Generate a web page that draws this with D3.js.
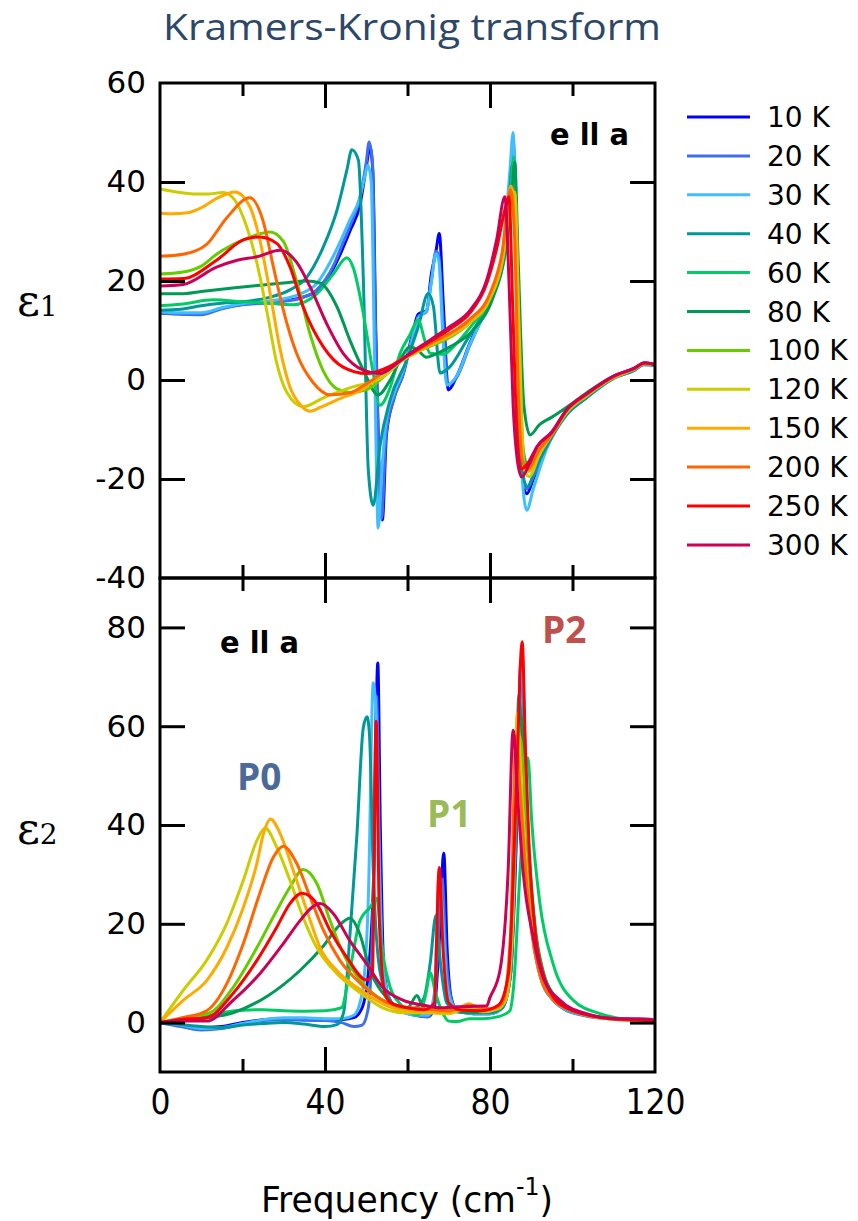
<!DOCTYPE html>
<html>
<head>
<meta charset="utf-8">
<script src="https://cdn.jsdelivr.net/npm/d3@7"></script>
<style>
  body { margin: 0; background: #fff; }
</style>
</head>
<body>
<svg id="chart" width="858" height="1221"></svg>
<script>
// temperatures and their colours (legend order)
const temps = ["10 K", "20 K", "30 K", "40 K", "60 K", "80 K", "100 K", "120 K", "150 K", "200 K", "250 K", "300 K"];
const colors = ["#0000ff", "#3f6ff0", "#40bfff", "#009999", "#00cc66", "#009955", "#66cc00", "#cccc00", "#ffaa00", "#ff6600", "#ff0000", "#cc0055"];

// eps1 (real part), [frequency cm-1, value]
const e1_10 = [[0,13.5],[5,13.4],[10,13.4],[15,14.5],[20,15.3],[25,15.6],[30,16.0],[34,16.6],[38,18.0],[42,22.5],[44,26],[46,30],[48.5,35.5],[50,43],[50.9,47],[51.6,42],[52.3,10],[53.1,-18],[53.9,-28.3],[54.9,-11],[56.6,-4],[59,1.4],[61.4,10],[62.6,13.3],[64.6,14],[65.8,21.5],[66.9,26],[67.7,29.6],[68.7,15],[69.9,-2],[71.9,0.7],[75.1,7.4],[78.4,13.5],[80.8,18.2],[83.2,26],[84.8,39],[85.8,46],[86.6,20],[87.3,-16],[88.9,-23],[90.5,-20],[93.7,-13.5],[98.6,-6.8],[103.4,-3.5],[109.9,0.5],[114.8,2],[117.2,3.2],[120,3]];
const e1_20 = [[0,13.5],[5,13.3],[10,13.2],[15,14.4],[20,15.2],[25,15.5],[30,15.9],[34,16.5],[38,18.2],[42,23],[44,27],[46,31],[48.5,37],[50,44],[50.7,48.1],[51.5,44],[52.2,12],[53,-16],[53.7,-28],[54.8,-11],[56.6,-4],[59,1.2],[61.4,9.5],[62.6,12.8],[64.6,13.8],[65.8,20],[66.9,26],[67.6,25],[68.6,12],[69.7,-1],[71.9,0.5],[75.1,7],[78.4,13.2],[80.8,18],[83.2,26.5],[84.8,40],[85.7,48],[86.5,22],[87.3,-15],[88.9,-22],[90.5,-19.5],[93.7,-13.5],[98.6,-6.8],[103.4,-3.5],[109.9,0.4],[114.8,1.9],[117.2,3.1],[120,3]];
const e1_30 = [[0,13.8],[5,13.6],[10,13.6],[15,14.6],[20,15.4],[25,15.8],[30,16.4],[34,17.4],[38,19.5],[42,25],[44,28.5],[46,32.3],[48.5,37],[49.6,41],[50.4,43.4],[51.2,40],[52,5],[52.9,-29.9],[53.8,-18],[54.9,-8],[56.6,-3],[59,2],[61.4,9],[62.6,12.5],[64.6,14],[65.8,20],[66.9,25.5],[67.6,24],[68.5,10],[69.5,-1],[71.9,0.8],[75.1,7.2],[78.4,13],[80.8,18],[83.2,27],[84.8,42],[85.6,50],[86.4,25],[87.3,-12],[88.9,-26.3],[90.5,-22],[93.7,-14],[98.6,-7],[103.4,-3.6],[109.9,0.4],[114.8,1.9],[117.2,3.1],[120,3]];
const e1_40 = [[0,14.1],[5,14.3],[10,15.0],[15,15.5],[20,15.8],[26,16.6],[31.5,18.2],[35.6,20.8],[39.6,26.9],[42.9,34.3],[45.3,42.4],[46.5,46.5],[48.1,44.4],[49.3,20.2],[50.5,-18.2],[51.7,-25.3],[53.3,-13.5],[55.8,-4],[59.8,4],[62.6,10.7],[65,17.5],[66.3,14.8],[67.9,1.4],[70.3,2.7],[74.4,8.1],[78.4,13.5],[81.6,18.9],[84.1,28.3],[85.3,43],[85.9,44],[86.8,0],[87.8,-18],[89,-21.6],[91,-18],[94,-13],[98.6,-7],[103.4,-3.6],[110,0.3],[115,2],[117.5,3.2],[120,3]];
const e1_60 = [[0,15.0],[5,15.3],[13,16.2],[20,15.8],[26,15.5],[32.3,15.2],[38,17.4],[42,21.4],[45.3,24.7],[46.8,22.8],[49.3,13.4],[51.7,1.3],[53.3,-5.1],[55.8,-1.5],[58.2,5.4],[60.5,9],[62.6,12.1],[64.2,8],[65.5,5.4],[68.7,5.2],[72,7.5],[76,11.5],[80,16],[83,24],[85,38],[85.8,45],[86.8,20],[87.8,-12],[89,-17],[91,-15],[94,-12],[98.6,-6.5],[103.4,-3],[110,0.6],[115,2.2],[117.5,3.3],[120,3.1]];
const e1_80 = [[0,17.4],[5,17.4],[10,17.9],[17.6,18.6],[25,19.2],[29.9,19.6],[35.6,20.0],[38.8,19.6],[42.9,14.8],[46,8.1],[49.3,2.0],[52.9,-3.0],[55.8,0],[58.5,4.5],[60.6,6.7],[62.5,6],[64.6,4.6],[67,5.3],[70.3,6.7],[75.9,10.1],[80.8,16.8],[83.5,25],[85.3,38],[86,44],[86.8,25],[88.2,-5],[89.7,-11.1],[92,-9],[95,-7.5],[98.6,-5.5],[103.4,-2.6],[110,0.8],[115,2.2],[117.5,3.3],[120,3.1]];
const e1_100 = [[0,21.4],[5.6,21.8],[10,23],[13.7,25.4],[20.2,28.3],[26.7,29.9],[29.9,28],[33.1,20],[36.4,9.2],[39.6,1.8],[42.9,-1.8],[46,-2.5],[50,-2.0],[54,0.5],[58,3.5],[62,5.5],[66,7],[70,8.5],[75,11.5],[80,16.5],[83,24],[85,35],[86,38],[87,10],[88.2,-17],[89.5,-18],[92,-14],[95,-11],[98.6,-6.5],[103.4,-3.2],[110,0.5],[115,2.2],[117.5,3.3],[120,3.1]];
const e1_120 = [[0,38.6],[4,38],[8,37.6],[12,37.6],[15.3,37.9],[18,36.5],[21,31],[23.5,23.6],[26,13.5],[28.3,3.4],[30.8,-2.6],[34.7,-5.4],[39.6,-3.6],[46,-1.6],[54,0.6],[58,3.5],[62,5.5],[66,7.2],[70,8.8],[75,11.5],[80,16.5],[83,24],[85,36],[86,38],[87,12],[88.3,-18],[89.5,-19.5],[92,-15],[95,-11],[98.6,-6.5],[103.4,-3.2],[110,0.5],[115,2.2],[117.5,3.3],[120,3.1]];
const e1_150 = [[0,33.7],[3,33.6],[6.7,33.8],[10,34.8],[14,36.8],[18.2,38],[21.8,35],[24.2,28.3],[26.7,17.5],[29,6.7],[31.5,-1.4],[34,-5],[36.4,-6.3],[39,-5.5],[42.9,-4.0],[50,-1.4],[54,1.5],[58,3.8],[62,5.6],[66,7.3],[70,9],[75,11.8],[80,17],[83,25],[85.1,39.2],[86.2,30],[87,0],[88,-16],[89.3,-18.5],[92,-14.5],[95,-11],[98.6,-6.3],[103.4,-3],[110,0.6],[115,2.3],[117.5,3.4],[120,3.1]];
const e1_200 = [[0,25.0],[5.6,25.4],[11.3,27.4],[16.2,32.8],[21.8,36.8],[25,32.1],[27.5,22.8],[29.9,14.1],[33.1,5.4],[37.2,-0.6],[41.2,-3.0],[46,-2.6],[50,-0.8],[54,1.5],[58,4],[62,5.8],[66,7.6],[70,9.3],[75,12.2],[80,17.5],[83,26],[85,38.5],[86,28],[86.8,0],[87.8,-16],[89,-18],[92,-14],[95,-11],[98.6,-6.2],[103.4,-3],[110,0.7],[115,2.3],[117.5,3.4],[120,3.1]];
const e1_250 = [[0,20.4],[5.6,20.5],[13.7,24.2],[20.2,28.3],[24.2,28.9],[28.3,27.6],[31.5,22.9],[34.7,14.8],[39.6,6.7],[44.4,2.6],[50.1,1.3],[55.8,2.8],[60.6,5.2],[65.5,7.8],[70.3,10.3],[75.2,13.6],[79.2,19.5],[81.6,26.5],[83.8,35],[84.6,37],[85.5,15],[86.5,-10],[87.5,-18],[89,-17],[91.4,-13.5],[95,-10.5],[98.6,-6],[103.4,-2.8],[110,0.8],[115,2.4],[117.5,3.5],[120,3.1]];
const e1_300 = [[0,19.0],[5.6,19.3],[13.7,22.8],[18.7,24.2],[23.5,24.9],[29.1,26.2],[33.1,23.8],[36.4,18.8],[40.4,11.4],[44.4,5.4],[49.3,2.0],[53.3,1.3],[57.5,3.4],[60.6,5.4],[65.5,8.1],[70.3,10.8],[75.2,14.1],[79.2,20.2],[81.6,28.3],[83.6,37.0],[84.6,20],[85.6,-5],[86.6,-16],[87.7,-19.6],[89.5,-17],[91.4,-13.5],[95,-10.5],[98.6,-6],[103.4,-2.8],[110,0.8],[115,2.4],[117.5,3.5],[120,3.1]];

// eps2 (imaginary part), [frequency cm-1, value]
const e2_10 = [[0,0],[5,-0.5],[10,-1],[15,-0.8],[20,0],[25,0.6],[30,0.8],[35,0.6],[40,0.5],[44,0.6],[47,1],[49,3],[50.5,10],[51.8,30],[52.8,72.8],[53.4,40],[54.2,12],[55.5,5],[58,2.5],[62,1.5],[65,1.2],[66.5,3],[67.6,15],[68.8,34.3],[69.6,15],[70.6,5],[72,2.5],[76,1.8],[80,1.8],[83,3],[85,10],[86.3,35],[87.5,73],[88.3,60],[89.3,33],[90.5,18],[92.5,9],[95,5],[98,2.8],[103,1.5],[110,0.8],[116,0.6],[120,0.3]];
const e2_20 = [[0,0],[5,-0.8],[10,-1.5],[15,-1.2],[20,-0.3],[25,0.4],[30,0.6],[35,0.5],[40,0.4],[44,0],[47,-0.8],[49,-0.5],[50.5,3],[51.7,25],[52.5,66],[53.2,35],[54,12],[55.5,5],[58,2.5],[62,1.5],[65,1.2],[66.5,4],[67.5,18],[68.4,29],[69.3,14],[70.5,5],[72,2.5],[76,1.8],[80,1.8],[83,3],[85,10],[86.3,38],[87.6,72],[88.4,55],[89.3,32],[90.5,17],[92.5,8.5],[95,4.8],[98,2.7],[103,1.4],[110,0.7],[116,0.5],[120,0.3]];
const e2_30 = [[0,0],[5,-0.5],[10,-1.2],[15,-1],[20,-0.2],[25,0.6],[30,1],[35,1],[40,0.8],[44,0.8],[47,1.5],[49,6],[50.5,25],[51.7,68.8],[52.5,60],[53.2,30],[54,12],[55.5,5],[58,2.5],[62,1.5],[65,1.5],[66.5,6],[67.7,30.2],[68.5,22],[69.5,8],[71,3.5],[73,2.2],[76,1.8],[80,1.8],[83,3],[85,11],[86.3,42],[87.8,75],[88.5,55],[89.3,33],[90.5,18],[92.5,9],[95,5],[98,2.8],[103,1.5],[110,0.8],[116,0.6],[120,0.3]];
const e2_40 = [[0,0],[5,-0.4],[10,-0.8],[15,-1],[20,-0.5],[25,-0.2],[30,0],[35,-0.3],[40,-0.8],[42.9,-0.4],[44.5,2],[46,17.2],[47.7,37.5],[49.3,59.8],[50.2,61.9],[50.8,58],[51.7,30.8],[53.3,10.5],[55.8,4.5],[58,2.8],[60,2.5],[62,3],[64,5],[65.5,12],[66.9,21.7],[68,12],[69.5,4],[72,2.2],[76,2],[80,2],[83,3],[85,10],[86.2,40],[87,66.3],[88,55],[89.3,33],[90.5,19],[92.5,10],[95,5.5],[98,3],[103,1.6],[110,0.8],[116,0.6],[120,0.3]];
const e2_60 = [[0,0],[5,0.5],[10,1],[15,2],[20,2.5],[25,2.6],[30,2.4],[35,2.3],[40,2.4],[44,3],[46,10.5],[48.5,20.7],[50.9,23.3],[52.5,25.2],[54,14],[55.8,7.1],[58,4],[60,2.5],[62,1.5],[63,1.8],[64.5,6],[65.5,10.1],[66.8,6],[68.5,2],[70,0.3],[72,0.2],[75,0.8],[78.4,0.8],[82,1.2],[84.8,2.4],[85.7,7.1],[87.3,30.8],[89.2,53.6],[90.1,41],[92.1,24.1],[95.3,11.9],[100.2,4.5],[106.7,1.8],[113,0.6],[119.6,0]];
const e2_80 = [[0,0],[5,0.3],[10,0.8],[17.7,2],[25.9,5.3],[34,10.6],[39.6,15.5],[43.6,19.8],[46,21.1],[48.5,17.8],[50.9,10.6],[54,6],[57,3.5],[60,3],[62.3,5.5],[63.5,3.5],[65,2.5],[68,2.5],[72,2.2],[76,2],[80,2.2],[83,3.5],[85,12],[86.3,40],[87.5,62],[88.4,52],[89.5,34],[91,19],[93,10],[95.5,5.5],[99,3],[104,1.5],[110,0.8],[116,0.4],[120,0.2]];
const e2_100 = [[0,0],[5.6,1],[12.1,2],[17.7,7.1],[23.5,15.2],[28.3,22.7],[31.5,27.4],[34.7,31.0],[38,28.2],[41.2,20.7],[44.4,14],[48.5,8.6],[54,4.5],[59,3],[64,2.6],[70,2.4],[75,2.6],[80,2.5],[83,4],[85,14],[86.3,42],[87.2,58],[88.2,50],[89.5,32],[91,18],[93,9.5],[95.5,5],[99,2.8],[104,1.5],[110,0.8],[116,0.5],[120,0.2]];
const e2_120 = [[0,0],[5.6,6.5],[11.3,12.6],[16.2,20.1],[20.2,28.8],[23.5,36.9],[25.5,39.4],[28.3,35.5],[31.5,28.8],[34.7,21.3],[38,15.2],[42.9,9.9],[47.8,6.5],[54,3],[59,2],[64,2],[70,1.8],[75,3],[78,2.2],[82,2.8],[84,5],[85.5,20],[86.6,62.6],[87.5,50],[88.5,35],[90,20],[92,10.5],[95,5],[99,2.7],[104,1.4],[110,0.7],[116,0.5],[120,0.2]];
const e2_150 = [[0,0],[5.6,4.5],[11.3,8.5],[16.2,15.2],[20.2,23.3],[23.5,32.3],[25.1,38.3],[26.8,41.2],[29.1,38.3],[32.3,30.8],[35.6,22.7],[38.8,15.2],[42.9,10.5],[47.8,7.1],[54,3.8],[59,2.4],[64,2.2],[70,2],[75,3.8],[78,2.5],[82,3],[84,6],[85.4,25],[86.5,58],[87.4,48],[88.5,33],[90,19],[92,10],[95,5],[99,2.7],[104,1.4],[110,0.7],[116,0.5],[120,0.2]];
const e2_200 = [[0,0],[5.6,1],[11.3,2.4],[16.2,7.9],[20.2,16],[24.2,26.2],[27.5,33.5],[29.9,35.7],[33.1,32.3],[36.4,25.4],[39.6,18.7],[43.6,12.6],[48.5,8],[54,4.5],[59,3.2],[64,2.8],[70,2.4],[75,3.5],[80,2.8],[83,4],[85,18],[86.3,58],[87.2,48],[88.5,32],[90,19],[92,10],[95,5],[99,2.7],[104,1.4],[110,0.7],[116,0.5],[120,0.3]];
const e2_250 = [[0,0],[5.6,0.7],[11.3,1],[17.7,5.9],[23.5,12.6],[28.3,19.3],[31.5,24.1],[34.4,26.2],[38,24.1],[41.2,18.7],[45.3,13.2],[50.1,8.6],[51.5,10],[52.4,61],[53.2,20],[54.5,6],[56,4],[60,3],[64,2.6],[66.5,4],[67.7,31.4],[68.6,15],[70,4],[73,2.5],[78,2.4],[82,3.5],[84.5,10],[86.3,45],[87.8,77.1],[88.6,55],[89.5,35],[91,18],[93,9.5],[95.5,5],[99,2.8],[104,1.5],[110,0.8],[116,0.6],[120,0.3]];
const e2_300 = [[0,0],[5.6,0.3],[11.3,0.3],[17.7,4.5],[24.2,9.9],[29.9,16],[34,20.7],[36.8,23.3],[38.8,24.1],[42,22.1],[46,16.6],[50.1,11.9],[54,7.1],[59,4.5],[64,3.5],[67.9,3],[72,3.2],[79.2,3.4],[80,5.1],[82.4,10.5],[84.4,30.8],[85.6,59.2],[86.8,44.4],[88,30.8],[90.5,17.2],[92.9,9.1],[97,4.5],[103.4,1.8],[110.7,0.8],[116.4,0.8],[119.6,0.6]];

const eps1Data = [e1_10, e1_20, e1_30, e1_40, e1_60, e1_80, e1_100, e1_120, e1_150, e1_200, e1_250, e1_300];
const eps2Data = [e2_10, e2_20, e2_30, e2_40, e2_60, e2_80, e2_100, e2_120, e2_150, e2_200, e2_250, e2_300];

// axis ticks
const xMajor = [40, 80];
const xMinor = [20, 60, 100];
const xLabels = [0, 40, 80, 120];
const y1Ticks = [-20, 0, 20, 40];
const y1Labels = [-40, -20, 0, 20, 40, 60];
const y2Ticks = [0, 20, 40, 60, 80];

const svg = d3.select("#chart");
const left = 160, right = 655;
const top1 = 83, mid = 578, bot2 = 1072;

const x = d3.scaleLinear().domain([0, 120]).range([left, right]);
const y1 = d3.scaleLinear().domain([-40, 60]).range([mid, top1]);
const y2 = d3.scaleLinear().domain([-10, 90]).range([bot2, mid]);

// title
svg.append("text")
    .attr("x", 412).attr("y", 40)
    .attr("text-anchor", "middle")
    .attr("font-family", "'Open Sans', Lato, sans-serif")
    .attr("font-size", 37)
    .attr("textLength", 498)
    .attr("lengthAdjust", "spacingAndGlyphs")
    .attr("fill", "#2d4768")
    .text("Kramers-Kronig transform");

// clip paths
const defs = svg.append("defs");
defs.append("clipPath").attr("id", "clip1").append("rect")
    .attr("x", left).attr("y", top1).attr("width", right - left).attr("height", mid - top1);
defs.append("clipPath").attr("id", "clip2").append("rect")
    .attr("x", left).attr("y", mid).attr("width", right - left).attr("height", bot2 - mid);

function drawCurves(data, yScale, clipId) {
    const line = d3.line()
        .x(d => x(d[0]))
        .y(d => yScale(d[1]))
        .curve(d3.curveMonotoneX);
    svg.append("g")
        .attr("clip-path", "url(#" + clipId + ")")
        .selectAll("path")
        .data(data)
        .enter().append("path")
        .attr("d", line)
        .attr("fill", "none")
        .attr("stroke", (d, i) => colors[i])
        .attr("stroke-width", 3)
        .attr("stroke-linejoin", "round");
}

drawCurves(eps1Data, y1, "clip1");
drawCurves(eps2Data, y2, "clip2");

// ticks (all pointing inward)
function tickAxis(axis, transform) {
    const g = svg.append("g").attr("transform", transform).call(axis);
    g.select(".domain").remove();
    g.selectAll(".tick line").attr("stroke", "#000").attr("stroke-width", 3);
    return g;
}

const xEdges = [
    { y: top1, f: d3.axisTop },
    { y: mid, f: d3.axisBottom },
    { y: mid, f: d3.axisTop },
    { y: bot2, f: d3.axisBottom }
];
xEdges.forEach(e => {
    tickAxis(e.f(x).tickValues(xMajor).tickSize(-25).tickFormat(""), "translate(0," + e.y + ")");
    tickAxis(e.f(x).tickValues(xMinor).tickSize(-13).tickFormat(""), "translate(0," + e.y + ")");
});

tickAxis(d3.axisLeft(y1).tickValues(y1Ticks).tickSize(-25).tickFormat(""), "translate(" + left + ",0)");
tickAxis(d3.axisRight(y1).tickValues(y1Ticks).tickSize(-25).tickFormat(""), "translate(" + right + ",0)");
tickAxis(d3.axisLeft(y2).tickValues(y2Ticks).tickSize(-25).tickFormat(""), "translate(" + left + ",0)");
tickAxis(d3.axisRight(y2).tickValues(y2Ticks).tickSize(-25).tickFormat(""), "translate(" + right + ",0)");

// frames
svg.append("rect").attr("x", left).attr("y", top1).attr("width", right - left).attr("height", mid - top1)
    .attr("fill", "none").attr("stroke", "#000").attr("stroke-width", 3);
svg.append("rect").attr("x", left).attr("y", mid).attr("width", right - left).attr("height", bot2 - mid)
    .attr("fill", "none").attr("stroke", "#000").attr("stroke-width", 3);

// tick labels
function labelAxis(axis, transform, font) {
    const g = svg.append("g").attr("transform", transform).call(axis);
    g.select(".domain").remove();
    g.selectAll(".tick line").remove();
    g.attr("font-family", font.family).attr("font-size", font.size);
    g.selectAll(".tick text").attr("fill", "#000");
    return g;
}
const yFont = { family: "'DejaVu Sans', Verdana, sans-serif", size: 31 };
const xFont = { family: "'DejaVu Sans Condensed', 'DejaVu Sans', sans-serif", size: 35 };
const plain = d => String(d);

labelAxis(d3.axisLeft(y1).tickValues(y1Labels).tickSize(0).tickPadding(14).tickFormat(plain), "translate(" + left + ",0)", yFont);
labelAxis(d3.axisLeft(y2).tickValues(y2Ticks).tickSize(0).tickPadding(14).tickFormat(plain), "translate(" + left + ",0)", yFont);
const xl = labelAxis(d3.axisBottom(x).tickValues(xLabels).tickSize(0).tickPadding(10).tickFormat(plain), "translate(0," + bot2 + ")", xFont);
xl.selectAll(".tick text").attr("font-stretch", "condensed").attr("dy", "0.9em");

// axis titles
svg.append("text")
    .attr("x", 407).attr("y", 1212)
    .attr("text-anchor", "middle")
    .attr("font-family", xFont.family)
    .attr("font-stretch", "condensed")
    .attr("font-size", 35)
    .attr("textLength", 292)
    .attr("lengthAdjust", "spacingAndGlyphs")
    .call(t => {
        t.append("tspan").text("Frequency (cm");
        t.append("tspan").attr("font-size", 24).attr("dy", -17).text("-1");
        t.append("tspan").attr("dy", 17).text(")");
    });

function epsLabel(sub, yPos) {
    const t = svg.append("text")
        .attr("x", 17).attr("y", yPos)
        .attr("font-family", "'DejaVu Serif', 'Liberation Serif', serif");
    t.append("tspan").attr("font-size", 44).text("\u03b5");
    t.append("tspan").attr("font-size", 28).text(sub);
}
epsLabel("1", 316);
epsLabel("2", 844);

// polarisation labels
const polFont = "'DejaVu Sans', sans-serif";
svg.append("text").attr("x", 550).attr("y", 145)
    .attr("font-family", polFont).attr("font-weight", "bold").attr("font-size", 31)
    .attr("textLength", 79).attr("lengthAdjust", "spacingAndGlyphs")
    .text("e ll a");
svg.append("text").attr("x", 220).attr("y", 653)
    .attr("font-family", polFont).attr("font-weight", "bold").attr("font-size", 31)
    .attr("textLength", 79).attr("lengthAdjust", "spacingAndGlyphs")
    .text("e ll a");

// peak labels
const peakFont = "'Open Sans', Lato, sans-serif";
[["P0", 237, 790, "#4a6a98"], ["P1", 427, 827, "#9bbb59"], ["P2", 542, 643, "#c0504d"]].forEach(p => {
    svg.append("text").attr("x", p[1]).attr("y", p[2])
        .attr("font-family", peakFont).attr("font-weight", "bold").attr("font-size", 37)
        .attr("fill", p[3]).text(p[0]);
});

// legend
const legend = svg.append("g").selectAll("g")
    .data(temps)
    .enter().append("g")
    .attr("transform", (d, i) => "translate(0," + (117 + i * 38.9) + ")");
legend.append("line")
    .attr("x1", 687).attr("x2", 750)
    .attr("stroke", (d, i) => colors[i])
    .attr("stroke-width", 3);
legend.append("text")
    .attr("x", 767).attr("y", 0)
    .attr("dy", "0.36em")
    .attr("font-family", "'DejaVu Sans', sans-serif")
    .attr("font-size", 28)
    .text(d => d);
</script>
</body>
</html>
